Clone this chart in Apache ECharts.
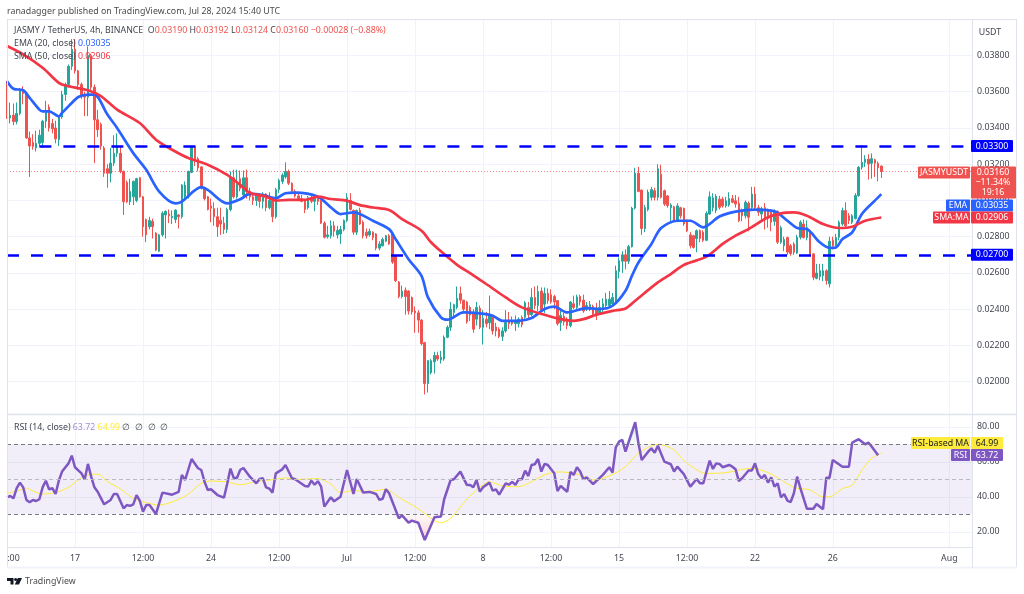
<!DOCTYPE html>
<html>
<head>
<meta charset="utf-8">
<title>JASMY / TetherUS</title>
<script src="https://cdn.jsdelivr.net/npm/echarts@6/dist/echarts.min.js"></script>
<style>
html, body { margin: 0; padding: 0; background: #fff; }
#chart { width: 1024px; height: 594px; }
</style>
</head>
<body>
<div id="chart"></div>
<script>
// prices are kept in 0.00001 USDT, the axis labels scale them back
const opens = [
  3560,3455,3470,3435,3480,3610,3590,3345,3320,3290,
  3315,3320,3437,3515,3425,3400,3335,3460,3585,3640,
  3740,3834,3715,3640,3580,3570,3800,3625,3445,3420,
  3290,3175,3150,3206,3260,3260,3160,3100,2993,3020,
  3000,3125,3020,2895,2855,2885,2820,2720,2810,2920,
  2925,2905,2895,2920,2910,3020,3020,3155,3298,3230,
  3185,3070,3020,2970,2955,2910,2890,2875,2840,2950,
  3125,3020,3120,3030,3125,3050,3020,3000,3030,2995,
  3035,2960,3000,2910,3060,3105,3130,3160,3095,3050,
  3025,3010,2995,2960,3015,2995,3020,3000,2875,2800,
  2805,2860,2810,2815,2840,2890,3000,2945,2825,2945,
  2880,2825,2810,2825,2815,2737,2750,2775,2805,2820,
  2695,2550,2470,2505,2500,2465,2390,2380,2340,2215,
  1990,2050,2110,2145,2120,2125,2245,2300,2382,2410,
  2486,2450,2440,2410,2380,2345,2405,2300,2345,2325,
  2365,2302,2290,2250,2280,2340,2335,2320,2320,2355,
  2355,2410,2370,2465,2420,2500,2428,2487,2480,2470,
  2447,2325,2360,2345,2310,2430,2410,2470,2450,2400,
  2400,2415,2400,2380,2400,2420,2420,2430,2437,2608,
  2665,2700,2665,2745,2958,3150,3057,2845,2950,3017,
  3054,3017,3145,3054,3025,2960,2965,2888,2960,2957,
  2889,2810,2805,2790,2833,2825,2780,2925,2960,2945,
  3007,3007,2970,2975,3010,2998,2985,2944,2915,2985,
  2960,3035,2960,2925,2960,2945,2935,2885,2940,2770,
  2750,2795,2750,2760,2710,2797,2870,2795,2833,2705,
  2570,2580,2585,2612,2540,2780,2750,2797,2870,2944,
  2915,2880,2900,3027,3183,3210,3228,3205,3225,3205,
  3190
]
const highs = [
  3660,3540,3535,3540,3620,3630,3600,3380,3365,3385,
  3390,3445,3550,3530,3450,3440,3465,3605,3650,3750,
  3890,3890,3720,3650,3600,3850,3810,3640,3500,3430,
  3300,3200,3290,3360,3370,3300,3165,3110,3120,3110,
  3125,3130,3025,2900,2910,2900,2825,2815,2940,2945,
  2950,2945,2950,2925,3090,3105,3165,3300,3300,3240,
  3190,3075,3025,3010,2990,2960,2960,2910,2960,3160,
  3170,3170,3165,3165,3170,3070,3040,3040,3040,3045,
  3040,3045,3010,3070,3120,3150,3210,3170,3100,3060,
  3050,3030,3005,3025,3030,3035,3030,3010,2885,2860,
  2890,2885,2860,2860,2895,3040,3040,2950,2950,2960,
  2890,2845,2845,2830,2820,2775,2795,2810,2815,2825,
  2700,2555,2530,2520,2505,2470,2415,2395,2345,2220,
  2120,2125,2165,2165,2170,2255,2310,2440,2430,2525,
  2525,2450,2445,2420,2400,2440,2420,2395,2385,2475,
  2370,2325,2300,2300,2395,2385,2360,2365,2355,2365,
  2445,2440,2515,2525,2530,2520,2520,2515,2510,2480,
  2450,2390,2380,2355,2445,2475,2480,2480,2480,2440,
  2445,2425,2435,2450,2460,2490,2500,2490,2640,2685,
  2720,2730,2755,2965,3180,3185,3060,2975,3060,3075,
  3070,3200,3197,3060,3030,2985,2970,2985,2965,2960,
  2895,2825,2810,2840,2840,2835,2940,3050,3040,3035,
  3025,3020,3020,3045,3030,3030,3020,2955,3000,2995,
  3075,3075,2975,2965,2985,2955,2945,2950,2945,2860,
  2800,2800,2760,2770,2810,2890,2895,2890,2840,2710,
  2650,2650,2650,2620,2800,2800,2815,2890,2960,2990,
  2930,2925,3040,3190,3305,3250,3255,3260,3230,3215,
  3192
]
const lows = [
  3450,3425,3415,3420,3470,3530,3340,3130,3280,3270,
  3300,3290,3400,3380,3370,3315,3300,3450,3550,3630,
  3720,3700,3610,3560,3465,3465,3610,3206,3350,3280,
  3130,3070,3100,3190,3240,3150,2920,2985,2975,2975,
  2990,3015,2800,2770,2840,2790,2720,2715,2800,2790,
  2875,2870,2875,2845,2900,3010,3010,3150,3190,3160,
  3060,3000,2945,2880,2860,2800,2810,2815,2820,2940,
  3010,3010,3050,3010,3010,3000,2975,2970,2960,2955,
  2940,2950,2880,2900,3040,3090,3120,3085,3040,3015,
  3000,2990,2930,2950,2985,2940,2975,2870,2790,2790,
  2790,2800,2790,2760,2830,2880,2945,2810,2810,2865,
  2790,2790,2800,2780,2725,2725,2745,2770,2755,2650,
  2550,2460,2460,2370,2370,2370,2270,2270,2200,1930,
  1940,2040,2045,2115,2100,2115,2240,2280,2350,2400,
  2430,2390,2320,2335,2270,2310,2290,2205,2300,2290,
  2260,2250,2240,2225,2270,2290,2310,2280,2300,2300,
  2345,2345,2360,2400,2390,2385,2380,2430,2430,2400,
  2310,2280,2310,2290,2300,2400,2400,2420,2380,2390,
  2390,2360,2340,2370,2385,2410,2410,2425,2430,2570,
  2600,2620,2650,2740,2950,3045,2810,2825,2940,3000,
  3000,3000,3010,2970,2960,2885,2880,2880,2900,2860,
  2825,2735,2735,2714,2770,2770,2775,2920,2940,2930,
  2950,2960,2960,2965,2985,2960,2880,2885,2900,2830,
  2950,2950,2915,2885,2840,2850,2830,2860,2760,2760,
  2720,2700,2695,2700,2705,2785,2790,2780,2695,2560,
  2565,2560,2555,2535,2520,2730,2745,2780,2860,2850,
  2870,2870,2895,3020,3170,3185,3115,3120,3130,3105,
  3124
]
const closes = [
  3455,3470,3435,3480,3610,3590,3345,3300,3298,3315,
  3360,3437,3490,3400,3395,3340,3460,3585,3640,3740,
  3834,3715,3640,3580,3570,3800,3625,3445,3390,3300,
  3150,3150,3206,3260,3300,3160,2993,2993,3050,3105,
  3120,3020,2855,2810,2890,2855,2726,2810,2930,2940,
  2915,2912,2947,2910,3085,3085,3160,3298,3225,3180,
  3070,3010,2950,2957,2910,2855,2870,2840,2950,3125,
  3020,3105,3065,3125,3050,3020,3000,3030,2995,3035,
  2960,3000,2910,3060,3110,3140,3160,3095,3050,3025,
  3010,2995,2950,3015,2995,3020,2995,2875,2797,2810,
  2860,2830,2835,2840,2890,3015,2950,2825,2945,2870,
  2805,2805,2830,2795,2737,2760,2785,2805,2760,2660,
  2557,2470,2500,2470,2390,2385,2380,2340,2210,1990,
  2116,2116,2145,2125,2135,2245,2300,2400,2425,2460,
  2450,2400,2330,2368,2290,2410,2300,2350,2320,2365,
  2280,2280,2250,2280,2327,2320,2320,2335,2345,2315,
  2435,2370,2465,2420,2497,2395,2487,2447,2440,2440,
  2320,2365,2330,2310,2440,2410,2468,2440,2390,2420,
  2425,2373,2373,2410,2430,2455,2455,2465,2612,2667,
  2700,2665,2745,2958,3150,3050,2845,2960,3045,3060,
  3017,3175,3017,2980,2972,2975,2888,2970,2915,2870,
  2833,2750,2741,2833,2790,2780,2929,3020,3015,3023,
  2962,2970,2998,3010,2990,2980,2888,2915,2990,2907,
  3035,2960,2935,2955,2897,2900,2880,2940,2770,2850,
  2785,2715,2707,2714,2797,2880,2795,2850,2705,2576,
  2600,2612,2612,2558,2775,2750,2795,2880,2944,2860,
  2890,2915,3027,3183,3210,3228,3201,3230,3205,3180,
  3160
]

// moving averages and RSI, read at their turning points (bar number, value)
const emaBars = [0,2,5,7,10,11,13,16,17,20,22,25,27,31,34,39,43,47,52,54,60,62,68,72,75,79,83,86,89,96,100,103,107,113,118,120,124,128,130,134,136,141,146,150,153,158,162,166,169,173,179,183,187,191,193,195,199,202,207,211,215,220,225,231,237,241,244,247,251,254,256,258,261,264,268,270]
const emaValues = [3658,3616,3608,3566,3501,3492,3492,3464,3483,3538,3571,3584,3584,3474,3400,3261,3169,3049,2984,2994,3073,3058,2984,3006,3036,3030,3012,3040,3043,3021,2962,2925,2934,2888,2842,2787,2676,2584,2465,2355,2342,2382,2377,2364,2336,2336,2351,2401,2414,2382,2406,2401,2419,2502,2585,2658,2760,2848,2888,2888,2852,2911,2938,2949,2940,2888,2848,2842,2769,2738,2741,2787,2824,2925,2999,3035]

const smaBars = [0,5,11,16,18,25,29,34,41,46,51,56,62,68,72,75,80,83,87,92,96,100,105,109,113,118,122,128,131,135,139,143,148,154,159,166,171,175,178,182,187,191,194,201,205,209,216,221,225,229,235,239,243,247,252,257,261,265,270]
const smaValues = [3852,3806,3732,3649,3634,3608,3575,3501,3427,3335,3280,3234,3197,3141,3086,3043,3021,2999,3003,3003,3021,3008,2998,2974,2961,2947,2897,2833,2768,2704,2645,2599,2539,2465,2410,2369,2345,2336,2345,2369,2391,2404,2447,2548,2594,2644,2690,2760,2806,2842,2907,2929,2934,2916,2870,2848,2855,2888,2906]

const rsiBars = [0,1,2,3,4,5,6,7,8,9,10,11,12,13,14,15,16,17,19,20,21,23,24,25,26,27,28,30,32,33,34,36,37,38,39,40,41,42,43,44,46,48,50,51,53,54,55,57,59,60,61,62,63,65,67,68,69,70,71,72,73,75,77,78,79,80,81,82,83,85,86,88,89,92,93,94,95,96,97,98,100,101,103,105,107,108,110,112,114,115,116,117,118,121,122,124,125,127,129,132,134,135,137,138,140,142,143,144,145,146,147,149,150,151,152,154,155,156,157,158,159,160,161,162,163,164,165,166,167,169,170,171,173,174,175,176,177,178,179,181,184,186,187,188,189,190,191,194,195,196,198,199,200,201,203,205,206,207,209,211,213,214,215,217,218,219,220,221,223,224,225,226,227,229,230,231,232,233,234,235,236,237,238,239,240,241,242,243,244,245,247,249,250,252,253,254,255,258,260,261,263,265,266,267,269,270]
const rsiValues = [39.7,40.5,39.1,44.9,48.1,45.4,38.2,36.9,38.2,37.6,38.6,45.4,49.2,44.3,44.9,41.6,49.2,54.4,59.1,63.5,56.9,53.4,50,58.8,51.5,45.4,42.9,35.7,38.2,41.6,41.6,33.4,35.3,34.8,35.7,41,37.8,31.5,35.3,35.3,30.2,42.4,41.6,41.2,42.8,52.5,49.6,61.6,56.3,55.3,48.6,43.9,44.3,41,39.5,47.4,56.1,50.8,50.8,55.3,56.5,51.5,47.7,50.2,50.6,45.4,44.7,42.4,53.4,55.7,58.2,50.6,50,46.2,45.8,49.2,46.9,48.9,45.8,34.4,39.7,37.4,40,55.3,41.6,50.2,42.4,42.8,41.6,38.2,38.9,44.3,42,27.7,29.4,25.2,26.4,25.2,15.3,28.3,28.7,38.6,49.6,50,54.4,46.8,46.8,45.4,49.6,42.9,45.4,48.1,43.5,44.3,41.2,47.7,46.9,48.5,46.8,50,50,54.9,51.9,58.2,58.6,61.6,54.4,58.8,58.2,53.4,43.3,46.2,42.9,54.2,52.5,56.9,54.4,50,51.1,47.3,52.5,56.9,53.8,68.3,71.5,72.5,65.8,82.6,70.6,61,65.8,67.7,65.2,69.2,60.1,58.6,54.4,57.2,53,45.8,50.2,47.7,47.7,60.7,55.9,59.1,58.8,56.9,58.2,57.2,55.7,49,50.6,55,55,59.1,53,50.6,52.5,48.1,51.1,45.8,47.7,39.7,41.6,37.8,37,42,51.5,44.9,33.2,33.2,35.9,32.9,50.9,50.9,61,57.2,57.2,71,72.9,70,71,68.7,63.7]

const rsiMaBars = [0,3,6,8,11,15,19,22,25,28,31,35,39,43,47,52,56,60,63,68,72,77,83,86,90,96,100,103,107,112,117,121,127,132,134,137,142,146,149,153,156,158,162,166,169,171,177,181,186,191,195,201,206,209,216,222,230,236,243,248,252,254,258,261,264,267,270]
const rsiMaValues = [42,43.3,44.9,43.3,41.6,42.4,45.4,49.6,52.5,52.9,48.7,44.5,39.1,36.7,35.3,37.8,41.6,47.7,49,48.5,46.9,48.7,50,50.8,50,50.4,47.3,42.4,43.5,43.1,44.3,39.7,33.2,26.4,25.2,27.7,38.6,45.4,48.5,46.2,45.8,45.8,48.7,52.5,54,54.2,52.5,49.6,51.9,57.2,64.9,70,66.8,60.7,53.4,53.8,56.3,53,45.4,43.9,40,40,44.7,46.6,55.3,62,65]

const levels = [3300, 2700]
const levelStartBars = [10, 0]
const lastClose = 3160
const lastEma = 3035
const lastSma = 2906
const lastRsi = 63.72
const lastRsiMa = 64.99

const gridBars = [21,42,63,84,105,126,147,168,189,210,231,255,291]
const tickBars = [2,21,42,63,84,105,126,147,168,189,210,231,255,291]
const tickTexts = [':00','17','12:00','24','12:00','Jul','12:00','8','12:00','15','12:00','22','26','Aug']

const BAR_COUNT = 299
const barNames = Array.from({ length: BAR_COUNT }, (_, i) => String(i))
const FONT = '"Noto Sans", sans-serif'
const SIZE = 8.8
const TEXT = '#434651'
const GRID = '#f0f3fa'
const UP = '#26a69a'
const DOWN = '#ef5350'
const BLUE = '#2962ff'
const RED = '#f23645'
const PURPLE = '#7e57c2'
const YELLOW = '#ffeb3b'

const pairs = (bars, values) => bars.map((b, i) => [b, values[i]])
const fmtPrice = v => (v / 1e5).toFixed(5)
const PLOT_LEFT = 7
const PLOT_RIGHT = 52 // px from the window edge to the price scale

const chart = echarts.init(document.getElementById('chart'), null, { renderer: 'canvas' })

const hiddenX = gridIndex => ({
  type: 'category', gridIndex, data: barNames, boundaryGap: false,
  axisLine: { show: false }, axisTick: { show: false }, axisLabel: { show: false },
  splitLine: { show: false }
})

const option = {
  animation: false,
  backgroundColor: '#ffffff',
  grid: [
    { left: PLOT_LEFT, right: PLOT_RIGHT, top: 19.2, height: 398.75 },
    { left: PLOT_LEFT, right: PLOT_RIGHT, top: 426.8, height: 105 },
    { left: PLOT_LEFT, right: PLOT_RIGHT, top: 415, height: 132 }
  ],
  xAxis: [
    Object.assign(hiddenX(0), {
      splitLine: { show: true, interval: i => gridBars.includes(i), lineStyle: { color: GRID, width: 1 } }
    }),
    hiddenX(1),
    Object.assign(hiddenX(2), {
      axisLine: { show: true, lineStyle: { color: '#e0e3eb', width: 1 } },
      splitLine: { show: true, interval: i => gridBars.includes(i), lineStyle: { color: GRID, width: 1 } },
      axisLabel: {
        show: true, margin: 7, fontFamily: FONT, fontSize: SIZE, color: TEXT,
        interval: i => tickBars.includes(i),
        formatter: (v, i) => tickTexts[tickBars.indexOf(i)] || ''
      }
    })
  ],
  yAxis: [
    {
      type: 'value', gridIndex: 0, position: 'right', min: 1800, max: 4000, interval: 200, scale: true,
      axisLine: { show: false }, axisTick: { show: false },
      splitLine: { show: true, showMinLine: false, showMaxLine: false, lineStyle: { color: GRID, width: 1 } },
      axisLabel: {
        margin: 5, fontFamily: FONT, fontSize: SIZE, color: TEXT,
        formatter: v => (v >= 4000 || v <= 1800) ? '' : fmtPrice(v)
      }
    },
    {
      type: 'value', gridIndex: 1, position: 'right', min: 20, max: 80, interval: 20,
      axisLine: { show: false }, axisTick: { show: false },
      splitLine: { show: true, lineStyle: { color: GRID, width: 1 } },
      axisLabel: { margin: 5, fontFamily: FONT, fontSize: SIZE, color: TEXT, formatter: v => v.toFixed(2) }
    },
    { type: 'value', gridIndex: 2, show: false, min: 0, max: 1 }
  ],
  series: [
    {
      name: 'JASMYUSDT', type: 'candlestick', xAxisIndex: 0, yAxisIndex: 0, barWidth: 2,
      data: opens.map((o, i) => [o, closes[i], lows[i], highs[i]]),
      itemStyle: { color: UP, color0: DOWN, borderColor: UP, borderColor0: DOWN, borderWidth: 1 }
    },
    {
      name: 'EMA', type: 'line', xAxisIndex: 0, yAxisIndex: 0, data: pairs(emaBars, emaValues),
      showSymbol: false, smooth: 0.3, lineStyle: { color: BLUE, width: 2.7 }
    },
    {
      name: 'SMA', type: 'line', xAxisIndex: 0, yAxisIndex: 0, data: pairs(smaBars, smaValues),
      showSymbol: false, smooth: 0.3, lineStyle: { color: RED, width: 2.7 },
      markLine: {
        silent: true, symbol: 'none', label: { show: false }, animation: false,
        data: levels.map((v, i) => [
          { coord: [levelStartBars[i], v], lineStyle: { color: '#0000ff', width: 2.5, type: [12, 12] } },
          { coord: [BAR_COUNT - 1, v] }
        ]).concat([[
          { coord: [0, lastClose], lineStyle: { color: RED, width: 1, type: [1, 2], opacity: 0.6 } },
          { coord: [BAR_COUNT - 1, lastClose] }
        ]])
      }
    },
    {
      name: 'RSI band', type: 'line', xAxisIndex: 1, yAxisIndex: 1, data: [], showSymbol: false,
      markArea: {
        silent: true, itemStyle: { color: 'rgba(126,87,194,0.1)' },
        data: [[{ yAxis: 30 }, { yAxis: 70 }]]
      },
      markLine: {
        silent: true, symbol: 'none', label: { show: false },
        data: [
          { yAxis: 70, lineStyle: { color: '#787b86', width: 1, type: [4, 3] } },
          { yAxis: 50, lineStyle: { color: '#b8bac2', width: 1, type: [4, 3] } },
          { yAxis: 30, lineStyle: { color: '#787b86', width: 1, type: [4, 3] } }
        ]
      }
    },
    {
      name: 'RSI oversold', type: 'line', xAxisIndex: 1, yAxisIndex: 1, clip: false, showSymbol: false,
      data: rsiBars.map((b, i) => [b, Math.min(rsiValues[i], 30)]),
      lineStyle: { width: 0 },
      areaStyle: {
        origin: 30,
        color: new echarts.graphic.LinearGradient(0, 0, 0, 1, [
          { offset: 0, color: 'rgba(239,83,80,0.05)' }, { offset: 1, color: 'rgba(239,83,80,0.35)' }
        ])
      }
    },
    {
      name: 'RSI overbought', type: 'line', xAxisIndex: 1, yAxisIndex: 1, clip: false, showSymbol: false,
      data: rsiBars.map((b, i) => [b, Math.max(rsiValues[i], 70)]),
      lineStyle: { width: 0 },
      areaStyle: {
        origin: 70,
        color: new echarts.graphic.LinearGradient(0, 0, 0, 1, [
          { offset: 0, color: 'rgba(38,166,154,0.35)' }, { offset: 1, color: 'rgba(38,166,154,0.05)' }
        ])
      }
    },
    {
      name: 'RSI MA', type: 'line', xAxisIndex: 1, yAxisIndex: 1, clip: false, data: pairs(rsiMaBars, rsiMaValues),
      showSymbol: false, smooth: 0.3, lineStyle: { color: YELLOW, width: 1 }
    },
    {
      name: 'RSI', type: 'line', xAxisIndex: 1, yAxisIndex: 1, clip: false, data: pairs(rsiBars, rsiValues),
      showSymbol: false, lineStyle: { color: PURPLE, width: 2.5 }
    }
  ]
}
chart.setOption(option)

// header text, frame and price tags sit on top of the plot
function txt(x, y, text, color, extra) {
  return {
    type: 'text', z: 200, x, y,
    style: Object.assign({ text, fill: color, fontFamily: FONT, fontSize: SIZE, verticalAlign: 'middle' }, extra)
  }
}
function box(x, y, w, h, fill) {
  return { type: 'rect', z: 190, shape: { x, y, width: w, height: h, r: 1 }, style: { fill } }
}
function frameLine(x1, y1, x2, y2, color, width) {
  return { type: 'line', z: 180, shape: { x1, y1, x2, y2 }, style: { stroke: color, lineWidth: width || 1 } }
}
function valueTag(y, value, fill, color, w) {
  return [
    box(971, y - 6, w, 12, fill),
    txt(971 + w / 2, y, value, color, { align: 'center' })
  ]
}
function nameTag(y, name, fill, color, x) {
  return [
    box(x, y - 6, 970 - x, 12, fill),
    txt((x + 970) / 2, y, name, color, { align: 'center' })
  ]
}
const rich = (name, color) => ({ [name]: { fill: color, fontFamily: FONT, fontSize: SIZE } })

const priceY = v => chart.convertToPixel({ yAxisIndex: 0 }, v)
const closeY = priceY(lastClose)
const smaY = priceY(lastSma)
const emaTagY = smaY - 12 // the EMA tag is pushed down against the close tag, as on the reference

const elements = [
  frameLine(7.5, 19.5, 1016.5, 19.5, '#e0e3eb'),
  frameLine(7.5, 19, 7.5, 568, '#e0e3eb'),
  frameLine(1016.5, 19, 1016.5, 568, '#e0e3eb'),
  frameLine(7, 567.5, 1017, 567.5, '#f0f3fa', 2),
  frameLine(972.5, 19, 972.5, 568, '#e0e3eb'),
  frameLine(7, 414.5, 1016, 414.5, '#e0e3eb', 1.5),

  txt(7, 11, 'ranadagger published on TradingView.com, Jul 28, 2024 15:40 UTC', '#4a4a4a'),
  txt(14, 30, '{n|JASMY / TetherUS, 4h, BINANCE}  {n|O}{v|0.03190} {n|H}{v|0.03192} {n|L}{v|0.03124} {n|C}{v|0.03160} {v|\u22120.00028 (\u22120.88%)}', TEXT, {
    rich: Object.assign(rich('n', TEXT), rich('v', DOWN))
  }),
  txt(14, 43, '{n|EMA (20, close)} {v|0.03035}', TEXT, { rich: Object.assign(rich('n', TEXT), rich('v', BLUE)) }),
  txt(14, 56, '{n|SMA (50, close)} {v|0.02906}', TEXT, { rich: Object.assign(rich('n', TEXT), rich('v', RED)) }),
  txt(14, 427, '{n|RSI (14, close)} {p|63.72} {y|64.99} {n|\u2205  \u2205  \u2205  \u2205}', TEXT, {
    rich: Object.assign(rich('n', TEXT), rich('p', '#a48dd6'), rich('y', YELLOW))
  }),
  txt(990, 32, 'USDT', TEXT, { align: 'center' }),

  // close tag with countdown
  box(971, closeY - 5, 45, 32, DOWN),
  txt(993, closeY + 1, fmtPrice(lastClose), '#fff', { align: 'center' }),
  txt(993, closeY + 11, '\u221211.34%', '#fff', { align: 'center' }),
  txt(993, closeY + 21.5, '19:16', '#fff', { align: 'center' }),
  ...nameTag(closeY + 1, 'JASMYUSDT', DOWN, '#fff', 918),

  ...nameTag(emaTagY, 'EMA', BLUE, '#fff', 946),
  ...valueTag(emaTagY, fmtPrice(lastEma), BLUE, '#fff', 42),
  ...nameTag(smaY, 'SMA:MA', RED, '#fff', 933),
  ...valueTag(smaY, fmtPrice(lastSma), RED, '#fff', 42),

  ...valueTag(priceY(levels[0]), fmtPrice(levels[0]), '#0000ff', '#fff', 42),
  ...valueTag(priceY(levels[1]), fmtPrice(levels[1]), '#0000ff', '#fff', 42),

  ...nameTag(443, 'RSI-based MA', YELLOW, '#131722', 911),
  ...valueTag(443, lastRsiMa.toFixed(2), YELLOW, '#131722', 32),
  ...nameTag(455, 'RSI', PURPLE, '#fff', 951),
  ...valueTag(455, lastRsi.toFixed(2), PURPLE, '#fff', 32),

  // TradingView mark and name
  { type: 'polygon', z: 200, shape: { points: [[7, 578], [13.5, 578], [13.5, 584.5], [10.5, 584.5], [10.5, 581], [7, 581]] }, style: { fill: '#131722' } },
  { type: 'circle', z: 200, shape: { cx: 15.6, cy: 579.5, r: 1.5 }, style: { fill: '#131722' } },
  { type: 'polygon', z: 200, shape: { points: [[17.8, 578], [22, 578], [19, 584.5], [14.8, 584.5]] }, style: { fill: '#131722' } },
  txt(25, 581, 'TradingView', '#4a4a4a')
]
chart.setOption({ graphic: { elements } })
</script>
</body>
</html>
